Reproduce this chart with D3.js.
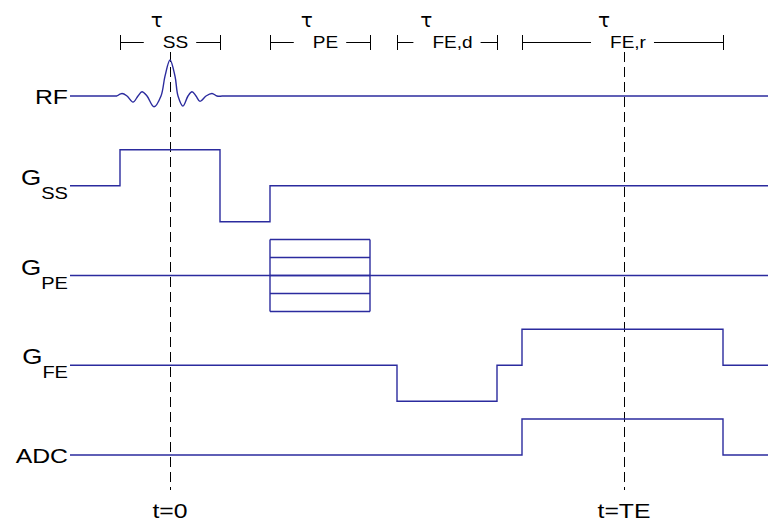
<!DOCTYPE html>
<html>
<head>
<meta charset="utf-8">
<script src="https://cdn.jsdelivr.net/npm/d3@7"></script>
<style>
  html, body { margin: 0; padding: 0; background: #fff; }
  svg { display: block; }
</style>
</head>
<body>
<script>
// Spin-echo style pulse sequence timing diagram.
// Time unit: one slice-select pulse width (t = 0 at the RF peak).

const rows = ["RF", "GSS", "GPE", "GFE", "ADC"];
const rowMain = ["RF", "G", "G", "G", "ADC"];
const rowSub = ["", "SS", "PE", "FE", ""];

// Step waveforms: [time, level] pairs, held until the next pair.
const gssSteps = [[-1, 0], [-0.5, 1], [0.5, -1], [1.0, 0], [6, 0]];
const gfeSteps = [[-1, 0], [2.27, -1], [3.27, 0], [3.52, 1], [5.53, 0], [6, 0]];
const adcSteps = [[-1, 0], [3.52, 1], [5.53, 0], [6, 0]];

// Phase-encode table: lobe window and the stepped amplitudes.
const peWindow = [1.0, 2.0];
const peLevels = [1, 0.5, 0, -0.5, -1];

// RF pulse envelope samples (sinc-like), [time, amplitude].
const rfSamples = [
  [-0.53, 0], [-0.48, 0.07], [-0.43, 0], [-0.37, -0.17], [-0.32, 0],
  [-0.28, 0.12], [-0.23, 0], [-0.16, -0.30], [-0.09, 0], [-0.05, 0.55],
  [0, 1.0], [0.05, 0.55], [0.08, 0], [0.13, -0.28], [0.18, 0],
  [0.22, 0.12], [0.26, 0], [0.30, -0.15], [0.36, 0], [0.42, 0.07],
  [0.47, 0], [0.52, 0]
];

// Timing intervals shown as brackets along the top.
const intervalNames = ["SS", "PE", "FE,d", "FE,r"];
const intervalStart = [-0.5, 1.0, 2.27, 3.52];
const intervalEnd = [0.5, 2.0, 3.27, 5.53];

// Vertical time markers.
const markerLabels = ["t=0", "t=TE"];
const markerTimes = [0, 4.54];

const W = 768, H = 522;
const waveColor = "#2b2b9e";
const inkColor = "#000";
const stretch = 1.18;

const svg = d3.select("body").append("svg")
  .attr("width", W).attr("height", H)
  .attr("font-family", "'Liberation Sans', Arial, sans-serif");

const x = d3.scaleLinear().domain([-1, 6]).range([70, 770]);
const rowY = d3.scalePoint().domain(rows).range([96, 455]);
const amp = d3.scaleLinear().domain([-1, 1]).range([36, -36]);

const stepLine = row => d3.line()
  .x(d => x(d[0]))
  .y(d => rowY(row) + amp(d[1]))
  .curve(d3.curveStepAfter);

// stretched text helper
function label(g, str, px, py, size, anchor) {
  return g.append("text")
    .attr("transform", `translate(${px},${py}) scale(${stretch},1)`)
    .attr("text-anchor", anchor || "start")
    .attr("font-size", size)
    .attr("fill", inkColor)
    .text(str);
}

// time markers (dashed)
const markers = svg.append("g");
markerTimes.forEach((t, i) => {
  const xx = Math.round(x(t)) + 0.5;
  markers.append("line")
    .attr("x1", xx).attr("x2", xx)
    .attr("y1", 52).attr("y2", 490)
    .attr("stroke", inkColor).attr("stroke-width", 1)
    .attr("stroke-dasharray", "10,5");
  label(markers, markerLabels[i], x(t), 518, 21, "middle");
});

// RF pulse
const waves = svg.append("g").attr("fill", "none")
  .attr("stroke", waveColor).attr("stroke-width", 1.4);

waves.append("line")
  .attr("x1", x(-1)).attr("x2", x(rfSamples[0][0]))
  .attr("y1", rowY("RF")).attr("y2", rowY("RF"));
waves.append("path")
  .attr("d", d3.line()
    .x(d => x(d[0]))
    .y(d => rowY("RF") + amp(d[1]))
    .curve(d3.curveCatmullRom.alpha(0.5))(rfSamples));
waves.append("line")
  .attr("x1", x(rfSamples[rfSamples.length - 1][0])).attr("x2", x(6))
  .attr("y1", rowY("RF")).attr("y2", rowY("RF"));

// gradients and ADC
waves.append("path").attr("d", stepLine("GSS")(gssSteps));
waves.append("path").attr("d", stepLine("GFE")(gfeSteps));
waves.append("path").attr("d", stepLine("ADC")(adcSteps));

// phase-encode table
waves.append("line")
  .attr("x1", x(-1)).attr("x2", x(6))
  .attr("y1", rowY("GPE")).attr("y2", rowY("GPE"));
peLevels.forEach(l => {
  waves.append("line")
    .attr("x1", x(peWindow[0])).attr("x2", x(peWindow[1]))
    .attr("y1", rowY("GPE") + amp(l)).attr("y2", rowY("GPE") + amp(l));
});
peWindow.forEach(t => {
  waves.append("line")
    .attr("x1", x(t)).attr("x2", x(t))
    .attr("y1", rowY("GPE") + amp(1)).attr("y2", rowY("GPE") + amp(-1));
});

// row labels
const rowLabels = svg.append("g");
rows.forEach((r, i) => {
  const y0 = rowY(r);
  if (rowSub[i]) {
    const t = rowLabels.append("text")
      .attr("transform", `translate(68,${y0}) scale(${stretch},1)`)
      .attr("text-anchor", "end").attr("fill", inkColor);
    t.append("tspan").attr("font-size", 22).attr("dy", -1).text(rowMain[i]);
    t.append("tspan").attr("font-size", 17).attr("dy", 14).text(rowSub[i]);
  } else {
    label(rowLabels, rowMain[i], 68, y0 + 7.5, 21, "end");
  }
});

// interval brackets: tau with subscript, centred, with end ticks
const brackets = svg.append("g");
const by = 42;
const sx = 1.12;
const tauSize = 20;
intervalNames.forEach((n, i) => {
  const x0 = x(intervalStart[i]), x1 = x(intervalEnd[i]);
  const cx = (x0 + x1) / 2;
  const sub = brackets.append("text")
    .attr("font-size", 17).attr("fill", inkColor).text(n);
  const ws = sub.node().getComputedTextLength() * sx;
  const wt = tauSize * 0.55;
  const left = cx - (wt + ws) / 2;
  // tau is anchored by its right edge, just before the subscript
  brackets.append("text")
    .attr("font-family", "'DejaVu Sans', sans-serif")
    .attr("font-size", tauSize).attr("fill", inkColor)
    .attr("text-anchor", "end")
    .attr("transform", `translate(${left + wt},${by - 15})`)
    .text("τ");
  sub.attr("transform", `translate(${left + wt},${by + 6}) scale(${sx},1)`);
  const g = brackets.append("g").attr("stroke", inkColor).attr("stroke-width", 1);
  g.append("line").attr("x1", x0).attr("x2", left - 8).attr("y1", by + 0.5).attr("y2", by + 0.5);
  g.append("line").attr("x1", left + wt + ws + 8).attr("x2", x1).attr("y1", by + 0.5).attr("y2", by + 0.5);
  [x0, x1].forEach(xx => g.append("line")
    .attr("x1", Math.round(xx) + 0.5).attr("x2", Math.round(xx) + 0.5)
    .attr("y1", by - 7).attr("y2", by + 8));
});
</script>
</body>
</html>
